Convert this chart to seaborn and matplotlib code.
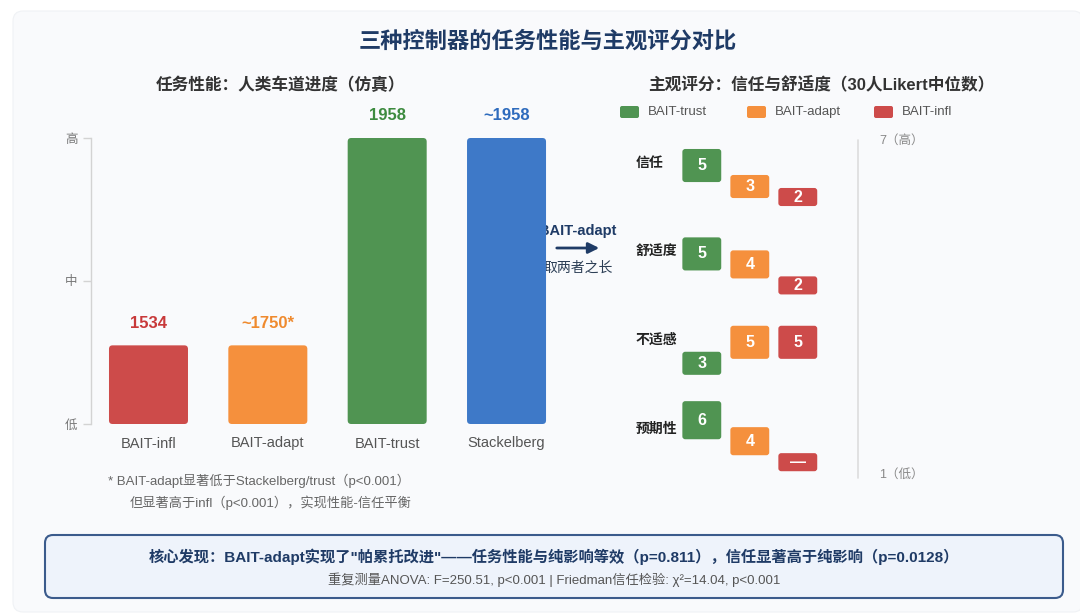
import matplotlib
matplotlib.use('Agg')
import matplotlib.pyplot as plt
import seaborn as sns
import pandas as pd
from matplotlib.patches import FancyBboxPatch

# ---- data ----
controllers = ['BAIT-infl', 'BAIT-adapt', 'BAIT-trust', 'Stackelberg']
perf_level = [0.55, 0.55, 2.0, 2.0]          # drawn height on the 低/中/高 scale
perf_text = ['1534', '~1750*', '1958', '~1958']
level_ticks = [0, 1, 2]
level_labels = ['低', '中', '高']

rating_items = ['信任', '舒适度', '不适感', '预期性']
rating_groups = ['BAIT-trust', 'BAIT-adapt', 'BAIT-infl']
trust_scores = [5, 5, 3, 6]
adapt_scores = [3, 4, 5, 4]
infl_scores = [2, 2, 5, None]                 # None = shown as "—"

# ---- styles ----
bar_colors = {'BAIT-infl': '#cd4b4a', 'BAIT-adapt': '#f5903d',
              'BAIT-trust': '#509452', 'Stackelberg': '#3e79c8'}
text_colors = ['#c8393a', '#ef8a2e', '#3d8b3f', '#2e6bbd']
NAVY = '#1f3b66'

sns.set_theme(style='white')
plt.rcParams['font.family'] = ['Liberation Sans', 'Noto Sans CJK SC', 'DejaVu Sans']

W, H = 1080, 616
fig = plt.figure(figsize=(W / 100, H / 100), dpi=100)
fig.patch.set_facecolor('white')

# background / annotation layer in pixel coordinates
bg = fig.add_axes([0, 0, 1, 1], zorder=-1)
bg.set_xlim(0, W)
bg.set_ylim(H, 0)
bg.axis('off')
bg.add_patch(FancyBboxPatch((13, 11), 1070, 601, boxstyle='round,pad=0,rounding_size=10',
                            fc='#f9fafc', ec='#f0f2f5', lw=0.8))

bg.text(548, 42, '三种控制器的任务性能与主观评分对比', ha='center', va='center',
        fontsize=16, fontweight='bold', color=NAVY)
bg.text(280, 85, '任务性能：人类车道进度（仿真）', ha='center', va='center',
        fontsize=12, fontweight='bold', color='#333333')
bg.text(821, 85, '主观评分：信任与舒适度（30人Likert中位数）', ha='center', va='center',
        fontsize=12, fontweight='bold', color='#333333')

# ---- left: task performance bars ----
ax1 = fig.add_axes([91.2 / W, (H - 424) / H, 475 / W, 286 / H])
ax1.set_facecolor('none')
perf = pd.DataFrame({'controller': controllers, 'level': perf_level})
sns.barplot(data=perf, x='controller', y='level', hue='controller', palette=bar_colors,
            width=0.662, saturation=1, legend=False, ax=ax1)

# round the bar corners
for p in list(ax1.patches):
    bb = p.get_bbox()
    rb = FancyBboxPatch((bb.x0, bb.y0), bb.width, bb.height,
                        boxstyle='round,pad=0,rounding_size=0.03', mutation_aspect=0.84,
                        fc=p.get_facecolor(), ec='none')
    p.remove()
    ax1.add_patch(rb)

for i, (lvl, txt) in enumerate(zip(perf_level, perf_text)):
    ax1.annotate(txt, (i, lvl), xytext=(0, 16), textcoords='offset points',
                 ha='center', va='center', fontsize=12, fontweight='bold',
                 color=text_colors[i])

ax1.set_xlim(-0.48, 3.5)
ax1.set_ylim(0, 2)
ax1.set_yticks(level_ticks)
ax1.set_yticklabels(level_labels)
ax1.set_xlabel('')
ax1.set_ylabel('')
for s in ['top', 'right', 'bottom']:
    ax1.spines[s].set_visible(False)
ax1.spines['left'].set_color('#d3d3d3')
ax1.spines['left'].set_linewidth(1)
ax1.tick_params(axis='y', length=6, width=1, color='#d3d3d3', labelcolor='#777777',
                labelsize=9, pad=4, left=True)
ax1.tick_params(axis='x', length=0, labelcolor='#555555', labelsize=10.5, pad=9)

bg.text(108, 481, '* BAIT-adapt显著低于Stackelberg/trust（p<0.001）', ha='left', va='center',
        fontsize=9.5, color='#666666')
bg.text(130, 503, '但显著高于infl（p<0.001），实现性能-信任平衡', ha='left', va='center',
        fontsize=9.5, color='#666666')

# arrow between panels
bg.text(578, 231, 'BAIT-adapt', ha='center', va='center', fontsize=10.5,
        fontweight='bold', color=NAVY)
bg.annotate('', xy=(602, 248), xytext=(554, 248),
            arrowprops=dict(arrowstyle='-|>', color=NAVY, lw=2, mutation_scale=16))
bg.text(578, 268, '取两者之长', ha='center', va='center', fontsize=10, color='#2c3e55')

# ---- right: Likert rating blocks ----
ROW_GAP = 6.8       # vertical distance between items (in rating steps)
BLOCK_W = 0.81
MISSING_POS = 2

ax2 = fig.add_axes([625 / W, (H - 485) / H, 375 / W, 355 / H])
ax2.set_facecolor('none')
ax2.set_xlim(-1.6, 6.2125)
ax2.set_ylim(26.85, -0.46)
ax2.axis('off')

group_scores = [trust_scores, adapt_scores, infl_scores]
for gi, (grp, scores) in enumerate(zip(rating_groups, group_scores)):
    for ri, v in enumerate(scores):
        shown = MISSING_POS if v is None else v
        top = ri * ROW_GAP + (6 - shown)
        h = 0.62 + 0.385 * shown
        ax2.add_patch(FancyBboxPatch((gi - BLOCK_W / 2, top), BLOCK_W, h,
                                     boxstyle='round,pad=0,rounding_size=0.06',
                                     mutation_aspect=3.7, fc=bar_colors[grp], ec='none'))
        ax2.text(gi, top + h / 2, '—' if v is None else str(v), ha='center', va='center',
                 fontsize=11.5, fontweight='bold', color='white')

for ri, item in enumerate(rating_items):
    ax2.text(-1.385, ri * ROW_GAP + 2.1, item, ha='left', va='center', fontsize=10,
             fontweight='bold', color='#222222')

ax2.axvline(3.26, ymin=0.02, ymax=0.972, color='#dddddd', lw=1.2)
ax2.text(3.7, 0.969, '7（高）', transform=ax2.get_xaxis_transform(), ha='left',
         va='center', fontsize=9, color='#888888')
ax2.text(3.7, 0.028, '1（低）', transform=ax2.get_xaxis_transform(), ha='left',
         va='center', fontsize=9, color='#888888')

# legend for the rating blocks
for i, grp in enumerate(rating_groups):
    x0 = 620 + i * 127
    bg.add_patch(FancyBboxPatch((x0, 106), 19, 12, boxstyle='round,pad=0,rounding_size=2',
                                fc=bar_colors[grp], ec='none'))
    bg.text(x0 + 28, 112, grp, ha='left', va='center', fontsize=9.5, color='#555555')

# ---- bottom summary box ----
bg.add_patch(FancyBboxPatch((45, 535), 1018, 63, boxstyle='round,pad=0,rounding_size=8',
                            fc='#eef3fb', ec='#3b5b8c', lw=1.5))
bg.text(554, 557, '核心发现：BAIT-adapt实现了"帕累托改进"——任务性能与纯影响等效（p=0.811），信任显著高于纯影响（p=0.0128）',
        ha='center', va='center', fontsize=11, fontweight='bold', color=NAVY)
bg.text(554, 580, '重复测量ANOVA: F=250.51, p<0.001 | Friedman信任检验: χ²=14.04, p<0.001',
        ha='center', va='center', fontsize=9.5, color='#555555')

fig.savefig('out.png', dpi=100)
